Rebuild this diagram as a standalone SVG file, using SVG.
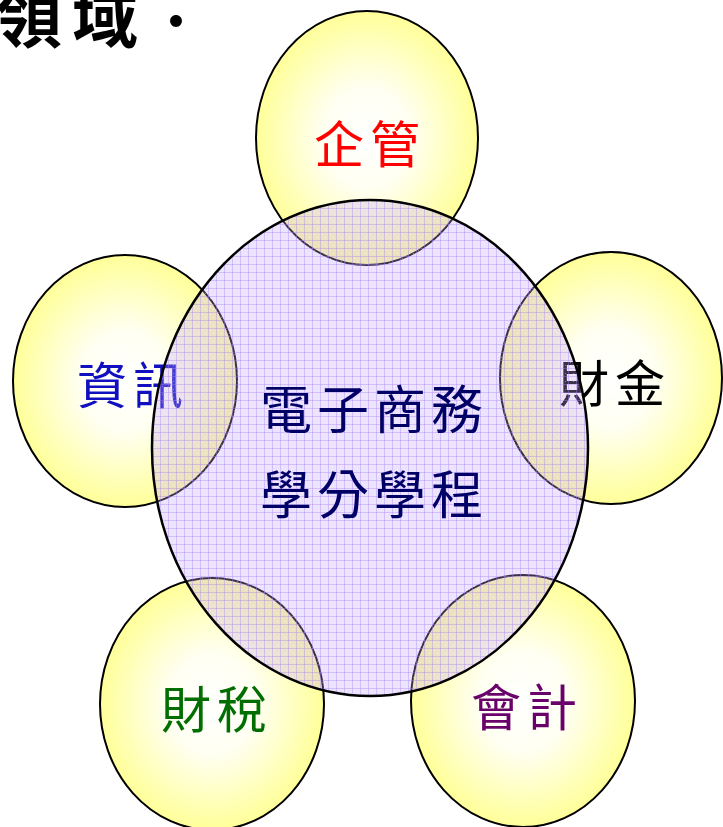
<svg xmlns="http://www.w3.org/2000/svg" width="723" height="827" viewBox="0 0 723 827">
<defs>
<radialGradient id="yel" cx="50%" cy="50%" r="50%">
<stop offset="0" stop-color="#ffffff"/>
<stop offset="0.4" stop-color="#fffff2"/>
<stop offset="1" stop-color="#ffff99"/>
</radialGradient>
<pattern id="grid" patternUnits="userSpaceOnUse" width="8" height="8">
<rect width="8" height="8" fill="#c0a4ff" fill-opacity="0.3"/>
<rect x="2" y="2" width="1" height="1" fill="#ffffff" fill-opacity="0.35"/>
<rect x="5" y="5" width="1" height="1" fill="#ffffff" fill-opacity="0.35"/>
<path d="M0 0.5H8M0.5 0V8" stroke="#a884f0" stroke-width="1" stroke-opacity="0.38" fill="none"/>
</pattern>
</defs>
<style>
.c{fill:url(#yel);stroke:#000;stroke-width:2}
.t{font-family:"Noto Sans CJK TC","Noto Sans CJK SC",sans-serif;font-size:50px;text-anchor:middle;letter-spacing:6px}
.m{font-family:"Noto Sans CJK TC","Noto Sans CJK SC",sans-serif;font-size:52px;text-anchor:middle;letter-spacing:5px;fill:#000066}
</style>
<g id="title">
<text x="-4" y="42" font-family="Noto Sans CJK TC, Noto Sans CJK SC, sans-serif" font-size="66" font-weight="bold" fill="#000" letter-spacing="10">領域<tspan font-weight="normal" font-size="56">・</tspan></text>
</g>
<g id="node-qiguan">
<ellipse class="c" cx="367" cy="138" rx="111" ry="127"/>
<text class="t" x="370" y="163" fill="#ff0000">企管</text>
</g>
<g id="node-zixun">
<ellipse class="c" cx="125" cy="381" rx="112" ry="126"/>
<text class="t" x="133" y="404" fill="#1010c0">資訊</text>
</g>
<g id="node-caijin">
<ellipse class="c" cx="611" cy="378" rx="111" ry="126"/>
<text class="t" x="615" y="402" fill="#000000">財金</text>
</g>
<g id="node-caishui">
<ellipse class="c" cx="212" cy="704" rx="112" ry="126"/>
<text class="t" x="217" y="728" fill="#006e00">財稅</text>
</g>
<g id="node-kuaiji">
<ellipse class="c" cx="523" cy="701" rx="112" ry="126"/>
<text class="t" x="527" y="726" fill="#6a006a">會計</text>
</g>
<g id="node-center">
<ellipse cx="370" cy="448" rx="218" ry="248" fill="url(#grid)" stroke="#000" stroke-width="2.5"/>
<text class="m" x="374" y="429">電子商務</text>
<text class="m" x="374" y="514">學分學程</text>
</g>
<g id="connectors"/>
</svg>
